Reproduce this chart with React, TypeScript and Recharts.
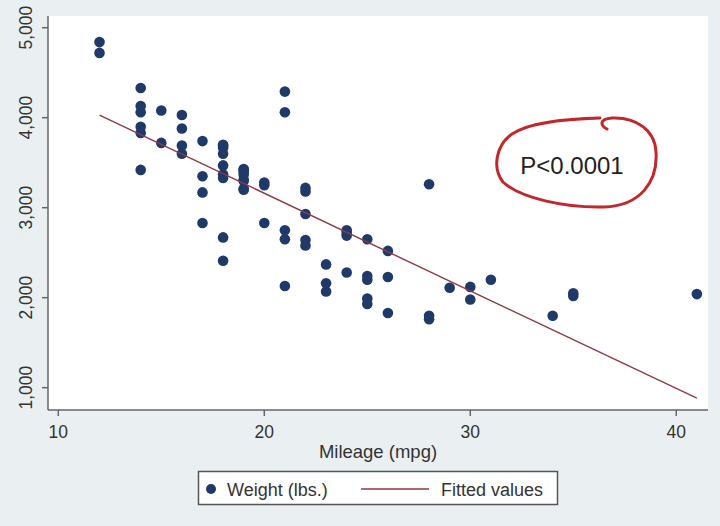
import React from 'react';
import { ScatterChart, Scatter, XAxis, YAxis, CartesianGrid } from 'recharts';

// Stata auto dataset: mileage (mpg) and weight (lbs.)
const mileage = [
  22, 17, 22, 20, 15, 18, 26, 20, 16, 19, 14, 14, 21, 29, 16, 22, 22, 24, 19, 30,
  18, 16, 17, 28, 21, 12, 12, 14, 22, 14, 15, 18, 14, 20, 21, 19, 19, 18, 19, 24,
  16, 28, 34, 25, 26, 18, 18, 18, 19, 19, 19, 24, 17, 23, 25, 23, 35, 24, 21, 21,
  25, 28, 30, 14, 26, 35, 18, 31, 18, 23, 41, 25, 25, 17,
];
const weight = [
  2930, 3350, 2640, 3250, 4080, 3670, 2230, 3280, 3880, 3400, 4330, 3900, 4290, 2110, 3690, 3180, 3220, 2750, 3430, 2120,
  3600, 3600, 3740, 1800, 2650, 4840, 4720, 3830, 2580, 4060, 3720, 3370, 4130, 2830, 4060, 3310, 3300, 3690, 3370, 2720,
  4030, 3260, 1800, 2200, 2520, 3330, 3700, 3470, 3210, 3200, 3420, 2690, 2830, 2070, 2650, 2370, 2020, 2280, 2750, 2130,
  2240, 1760, 1980, 3420, 1830, 2050, 2410, 2200, 2670, 2160, 2040, 1930, 1990, 3170,
];
const fitMileage = [12, 41];
const fitWeight = [4028, 883];
const xTicks = [10, 20, 30, 40];
const yTicks = [1000, 2000, 3000, 4000, 5000];

const points = mileage.map((m, i) => ({ mpg: m, weight: weight[i] }));
const fitted = fitMileage.map((m, i) => ({ mpg: m, weight: fitWeight[i] }));

const FONT = 'Arial, "Liberation Sans", sans-serif';
const NAVY = '#1f3a68';
const MAROON = '#8c3a44';
const BG = '#eaf0f2';

const YTick = (props: any) => {
  const { x, y, payload } = props;
  const tx = x - 8;
  return (
    <text
      x={tx}
      y={y}
      transform={`rotate(-90 ${tx} ${y})`}
      textAnchor="middle"
      fontSize={17.5}
      fontFamily={FONT}
      fill="#333"
    >
      {Number(payload.value).toLocaleString('en-US')}
    </text>
  );
};

const Dot = (props: any) => {
  const { cx, cy } = props;
  if (cx == null || cy == null) return <g />;
  return <circle cx={cx} cy={cy} r={5.3} fill={NAVY} />;
};

const NoShape = () => <g />;

export default function App() {
  return (
    <div
      style={{
        position: 'absolute',
        left: 0,
        top: 0,
        width: 720,
        height: 526,
        background: BG,
        fontFamily: FONT,
      }}
    >
      <ScatterChart
        width={720}
        height={526}
        margin={{ top: 16, right: 12, bottom: 76, left: 0 }}
      >
        <rect x={48} y={16} width={660} height={394} fill="#ffffff" />
        <CartesianGrid vertical={false} stroke="#e6edef" strokeWidth={1.2} />
        <XAxis
          type="number"
          dataKey="mpg"
          domain={[9.5, 41.54]}
          ticks={xTicks}
          allowDataOverflow
          height={40}
          stroke="#666"
          strokeWidth={1.5}
          tickSize={6}
          tickMargin={10}
          tick={{ fontSize: 17.5, fill: '#333', fontFamily: FONT }}
          label={({ viewBox }: any) => (
            <text
              x={viewBox.x + viewBox.width / 2}
              y={viewBox.y + 48}
              textAnchor="middle"
              fontSize={18.5}
              fontFamily={FONT}
              fill="#333"
            >
              Mileage (mpg)
            </text>
          )}
        />
        <YAxis
          type="number"
          dataKey="weight"
          domain={[752, 5130]}
          ticks={yTicks}
          allowDataOverflow
          width={48}
          stroke="#666"
          strokeWidth={1.5}
          tickSize={6}
          tickMargin={2}
          tick={<YTick />}
        />
        <Scatter
          name="Weight (lbs.)"
          data={points}
          shape={<Dot />}
          isAnimationActive={false}
        />
        <Scatter
          name="Fitted values"
          data={fitted}
          line={{ stroke: MAROON, strokeWidth: 1.4 }}
          lineType="joint"
          shape={<NoShape />}
          isAnimationActive={false}
        />
      </ScatterChart>
      <svg
        width={720}
        height={526}
        style={{ position: 'absolute', left: 0, top: 0, pointerEvents: 'none' }}
      >
        <path
          d="M 607 129 C 601 126, 598 119, 612 118 C 636 117, 655 130, 656 152 C 658 182, 640 206, 604 207 C 565 208, 520 198, 503 182 C 492 168, 496 145, 512 134 C 530 122, 565 119, 600 118"
          fill="none"
          stroke="#c0282d"
          strokeWidth={3}
          strokeLinecap="round"
        />
        <text x={572} y={174} textAnchor="middle" fontSize={24} fontFamily={FONT} fill="#222">
          P&lt;0.0001
        </text>
        <rect x={198.5} y={471.5} width={359} height={33} fill="#ffffff" stroke="#555" strokeWidth={1.5} />
        <circle cx={211} cy={489} r={5} fill={NAVY} />
        <text x={227} y={495.5} fontSize={18} fontFamily={FONT} fill="#333">
          Weight (lbs.)
        </text>
        <line x1={361} y1={489} x2={429} y2={489} stroke={MAROON} strokeWidth={1.4} />
        <text x={441} y={495.5} fontSize={18} fontFamily={FONT} fill="#333">
          Fitted values
        </text>
      </svg>
    </div>
  );
}
